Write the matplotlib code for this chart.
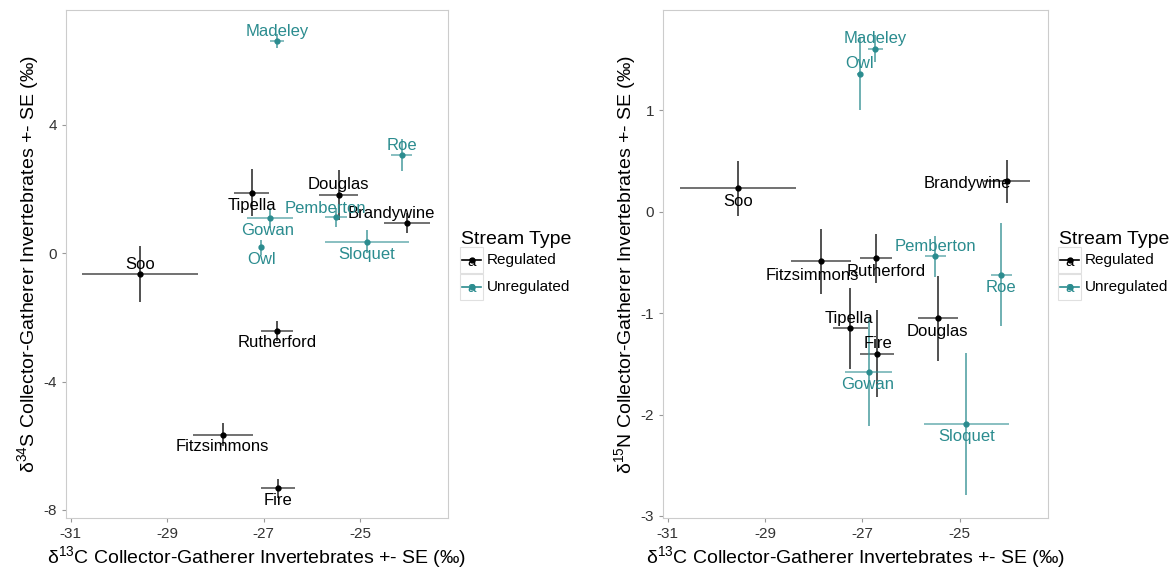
import numpy as np
import matplotlib
matplotlib.use("Agg")
import matplotlib.pyplot as plt
from matplotlib.patches import Rectangle
from matplotlib.lines import Line2D

plt.rcParams['font.family'] = ['Liberation Sans', 'DejaVu Sans']
plt.rcParams['mathtext.fontset'] = 'custom'
plt.rcParams['mathtext.rm'] = 'Liberation Sans'
plt.rcParams['mathtext.it'] = 'Liberation Sans:italic'
plt.rcParams['axes.unicode_minus'] = False

# site means and standard errors
sites = ['Brandywine', 'Douglas', 'Fire', 'Fitzsimmons', 'Rutherford', 'Soo', 'Tipella',
         'Gowan', 'Madeley', 'Owl', 'Pemberton', 'Roe', 'Sloquet']
stream_type = ['Regulated'] * 7 + ['Unregulated'] * 6
d13c = [-24.03, -25.45, -26.70, -27.85, -26.72, -29.56, -27.25,
        -26.87, -26.73, -27.05, -25.50, -24.14, -24.86]
d13c_se = [0.47, 0.41, 0.35, 0.62, 0.33, 1.20, 0.36,
           0.48, 0.15, 0.05, 0.22, 0.22, 0.87]
d34s = [0.93, 1.81, -7.33, -5.66, -2.42, -0.66, 1.88,
        1.09, 6.60, 0.18, 1.11, 3.05, 0.35]
d34s_se = [0.31, 0.77, 0.30, 0.36, 0.32, 0.87, 0.73,
           0.31, 0.22, 0.23, 0.30, 0.50, 0.36]
d15n = [0.30, -1.05, -1.40, -0.49, -0.46, 0.23, -1.15,
        -1.58, 1.61, 1.36, -0.44, -0.62, -2.09]
d15n_se = [0.21, 0.42, 0.43, 0.32, 0.24, 0.27, 0.40,
           0.53, 0.13, 0.36, 0.20, 0.51, 0.70]

# label nudges in pixels (dx, dy; dy positive = down)
nudge_s = [(-16, -10), (0, -10), (0, 12), (0, 12), (0, 12), (0, -10), (0, 13),
           (-2, 12), (0, -9.5), (0, 12), (-11, -9), (0, -10), (0, 13)]
nudge_n = [(-39, 2), (0, 13), (1, -10), (-9, 14), (10, 13), (0, 13), (-1, -10),
           (-1, 12.7), (0, -10), (0, -10.7), (0, -10), (0, 12.6), (0, 12.6)]

colors = {'Regulated': 'black', 'Unregulated': '#2b8c8f'}
W, H = 1173, 573


def panel(ax, y, yse, nudges, ylim, yticks, ylabel):
    for i, s in enumerate(sites):
        c = colors[stream_type[i]]
        ax.plot([d13c[i] - d13c_se[i], d13c[i] + d13c_se[i]], [y[i], y[i]],
                color=c, lw=1.2, alpha=0.65, solid_capstyle='butt')
        ax.plot([d13c[i], d13c[i]], [y[i] - yse[i], y[i] + yse[i]],
                color=c, lw=1.2, alpha=0.8, solid_capstyle='butt')
        ax.plot(d13c[i], y[i], 'o', color=c, ms=3.5)
        ax.annotate(s, (d13c[i], y[i]), xytext=(nudges[i][0], -nudges[i][1]),
                    textcoords='offset pixels', ha='center', va='center',
                    color=c, fontsize=12)
    ax.set_xlim(-31.1, -23.18)
    ax.set_ylim(*ylim)
    ax.set_xticks([-31, -29, -27, -25])
    ax.set_yticks(yticks)
    ax.tick_params(length=3, color='#999999', labelsize=11, labelcolor='#333333')
    for sp in ax.spines.values():
        sp.set_color('#cccccc')
    ax.set_xlabel(r'$\mathregular{\delta^{13}}$C Collector-Gatherer Invertebrates +- SE (‰)',
                  fontsize=14, labelpad=2)
    ax.set_ylabel(ylabel, fontsize=14, labelpad=2)


def legend(fig, x0, y0):
    # x0, y0: left end / middle of the legend title in pixels
    fig.text(x0 / W, 1 - y0 / H, 'Stream Type', fontsize=14, va='center', ha='left')
    for k, name in enumerate(['Regulated', 'Unregulated']):
        yc = y0 + 20 + 26.5 * k
        bx, bw = x0 - 1, 23
        fig.add_artist(Rectangle((bx / W, 1 - (yc + 13) / H), bw / W, 26 / H,
                                 transform=fig.transFigure, facecolor='white',
                                 edgecolor='#e0e0e0', lw=0.8))
        c = colors[name]
        fig.add_artist(Line2D([(bx + 2) / W, (bx + bw - 2) / W], [1 - yc / H] * 2,
                              transform=fig.transFigure, color=c, lw=1.2))
        fig.add_artist(Line2D([(bx + bw / 2) / W], [1 - yc / H], marker='o', ms=3.5,
                              transform=fig.transFigure, color=c))
        fig.text((bx + bw / 2) / W, 1 - (yc + 2) / H, 'a', color=c, fontsize=11,
                 ha='center', va='center')
        fig.text((x0 + 26) / W, 1 - yc / H, name, fontsize=11, va='center', ha='left')


fig = plt.figure(figsize=(W / 100, H / 100), dpi=100)
ax1 = fig.add_axes([66 / W, 55 / H, 382 / W, 508 / H])
ax2 = fig.add_axes([663 / W, 55 / H, 385 / W, 508 / H])

panel(ax1, d34s, d34s_se, nudge_s, (-8.25, 7.57), [-8, -4, 0, 4],
      r'$\mathregular{\delta^{34}}$S Collector-Gatherer Invertebrates +- SE (‰)')
panel(ax2, d15n, d15n_se, nudge_n, (-3.02, 1.99), [-3, -2, -1, 0, 1],
      r'$\mathregular{\delta^{15}}$N Collector-Gatherer Invertebrates +- SE (‰)')

legend(fig, 461, 240)
legend(fig, 1059, 240)

fig.savefig('out.png', dpi=100)
